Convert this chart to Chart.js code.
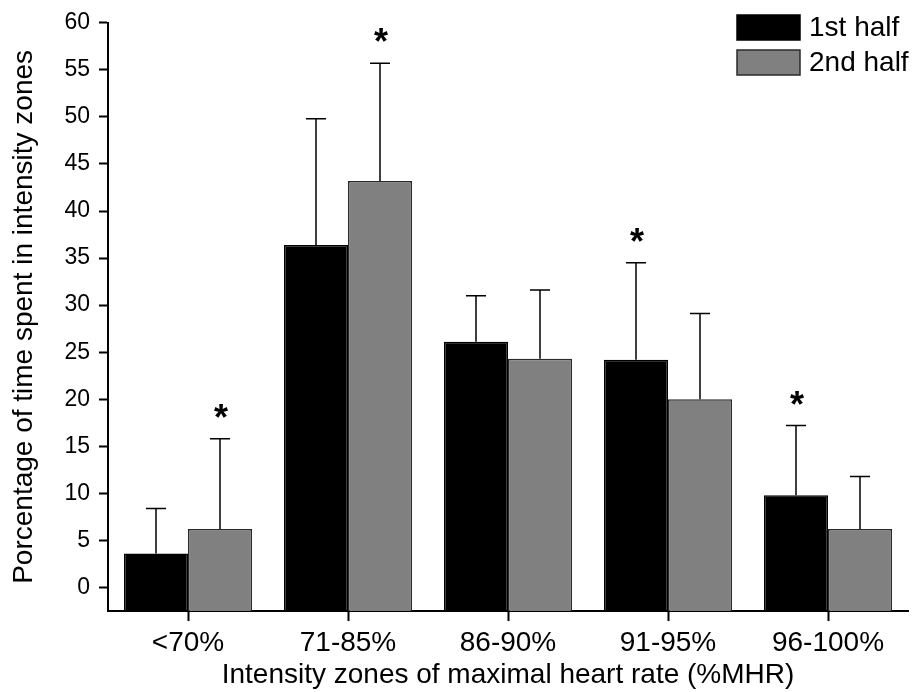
<!DOCTYPE html>
<html>
<head>
<meta charset="utf-8">
<script src="https://cdn.jsdelivr.net/npm/chart.js@4.4.1/dist/chart.umd.min.js"></script>
<style>
  body { margin: 0; background: #fff; }
  #wrap { width: 913px; height: 692px; }
</style>
</head>
<body>
<div id="wrap"><canvas id="chart" width="913" height="692"></canvas></div>
<script>
// Chart data
const zones = ['<70%', '71-85%', '86-90%', '91-95%', '96-100%'];
const firstHalf = [3.6, 36.4, 26.1, 24.2, 9.8];
const secondHalf = [6.2, 43.2, 24.3, 20.0, 6.2];
const firstHalfSD = [4.8, 13.4, 4.9, 10.3, 7.4];
const secondHalfSD = [9.6, 12.5, 7.3, 9.1, 5.6];
const firstHalfStar = [false, false, false, true, true];
const secondHalfStar = [true, true, false, false, false];
const yTicks = [0, 5, 10, 15, 20, 25, 30, 35, 40, 45, 50, 55, 60];

const FONT = '"Liberation Sans", Arial, sans-serif';
const sdList = [firstHalfSD, secondHalfSD];
const starList = [firstHalfStar, secondHalfStar];

// error bars (upper only) and asterisks
const errorBarPlugin = {
    id: 'errorBars',
    afterDatasetsDraw(chart) {
        const ctx = chart.ctx;
        const y = chart.scales.y;
        ctx.save();
        chart.data.datasets.forEach((ds, di) => {
            const meta = chart.getDatasetMeta(di);
            meta.data.forEach((bar, i) => {
                const top = y.getPixelForValue(ds.data[i]);
                const errTop = y.getPixelForValue(ds.data[i] + sdList[di][i]);
                ctx.strokeStyle = '#000';
                ctx.lineWidth = 1.5;
                ctx.beginPath();
                ctx.moveTo(bar.x, top);
                ctx.lineTo(bar.x, errTop);
                ctx.moveTo(bar.x - 10, errTop);
                ctx.lineTo(bar.x + 10, errTop);
                ctx.stroke();
                if (starList[di][i]) {
                    ctx.fillStyle = '#000';
                    ctx.font = 'bold 36px ' + FONT;
                    ctx.textAlign = 'center';
                    ctx.textBaseline = 'alphabetic';
                    ctx.fillText('*', bar.x + 1, errTop - 9);
                }
            });
        });
        ctx.restore();
    }
};

// legend drawn in the top right corner of the plot
const legendPlugin = {
    id: 'boxLegend',
    afterDraw(chart) {
        const ctx = chart.ctx;
        ctx.save();
        chart.data.datasets.forEach((ds, di) => {
            const top = 15 + di * 35;
            ctx.fillStyle = ds.backgroundColor;
            ctx.strokeStyle = ds.borderColor;
            ctx.lineWidth = 1.5;
            ctx.fillRect(737, top, 63, 25);
            ctx.strokeRect(737, top, 63, 25);
            ctx.fillStyle = '#000';
            ctx.font = '28px ' + FONT;
            ctx.textAlign = 'left';
            ctx.textBaseline = 'middle';
            ctx.fillText(ds.label, 809, top + 13);
        });
        ctx.restore();
    }
};

new Chart(document.getElementById('chart'), {
    type: 'bar',
    data: {
        labels: zones,
        datasets: [{
            label: '1st half',
            data: firstHalf,
            backgroundColor: '#000000',
            borderColor: '#000000',
            borderWidth: 1.5,
            base: -2.5
        }, {
            label: '2nd half',
            data: secondHalf,
            backgroundColor: '#808080',
            borderColor: '#2a2a2a',
            borderWidth: 1.5,
            base: -2.5
        }]
    },
    options: {
        responsive: false,
        animation: false,
        datasets: { bar: { categoryPercentage: 0.8, barPercentage: 1.0 } },
        layout: { padding: { top: 18, right: 5, left: 0, bottom: 0 } },
        plugins: {
            legend: { display: false },
            tooltip: { enabled: false }
        },
        scales: {
            x: {
                offset: true,
                grid: {
                    offset: false,
                    drawOnChartArea: false,
                    drawTicks: true,
                    tickLength: 10,
                    tickWidth: 2,
                    tickColor: '#000'
                },
                border: { color: '#000', width: 2 },
                ticks: { color: '#000', font: { family: FONT, size: 28 }, padding: 5 },
                title: {
                    display: true,
                    text: 'Intensity zones of maximal heart rate (%MHR)',
                    color: '#000',
                    font: { family: FONT, size: 28 },
                    padding: { top: 3, bottom: 0 }
                },
                afterFit(scale) { scale.height = 81; }
            },
            y: {
                min: -2.5,
                max: 60,
                grid: {
                    drawOnChartArea: false,
                    drawTicks: true,
                    tickLength: 9,
                    tickWidth: 2,
                    tickColor: '#000'
                },
                border: { color: '#000', width: 2 },
                afterBuildTicks(scale) {
                    scale.ticks = yTicks.map(v => ({ value: v }));
                },
                ticks: { color: '#000', font: { family: FONT, size: 23 }, padding: 9 },
                title: {
                    display: true,
                    text: 'Porcentage of time spent in intensity zones',
                    color: '#000',
                    font: { family: FONT, size: 28 },
                    padding: { top: 7, bottom: 0 }
                },
                afterFit(scale) { scale.width = 108; }
            }
        }
    },
    plugins: [errorBarPlugin, legendPlugin]
});
</script>
</body>
</html>
